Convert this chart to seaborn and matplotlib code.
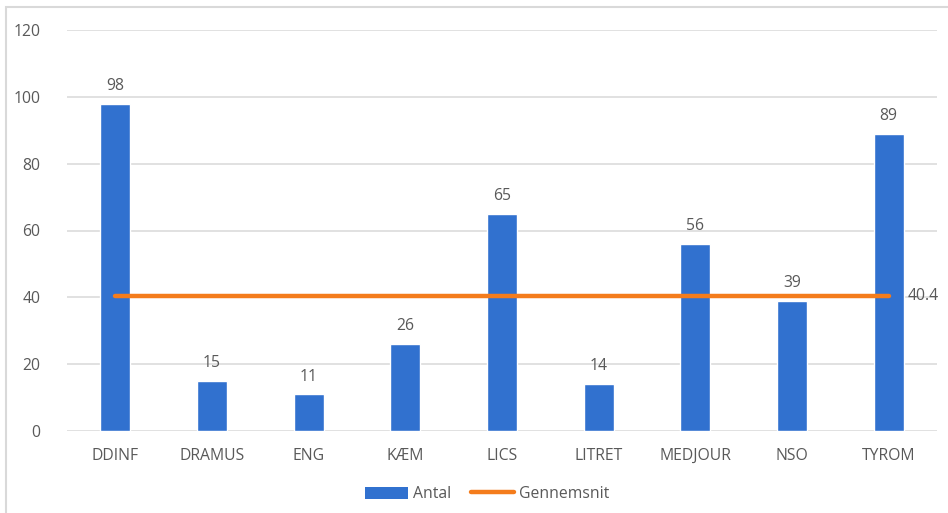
import matplotlib
matplotlib.use("Agg")
import matplotlib.pyplot as plt
import seaborn as sns
import pandas as pd
from matplotlib.patches import Rectangle
from matplotlib.lines import Line2D
from matplotlib.patches import Patch

categories = ["DDINF", "DRAMUS", "ENG", "KÆM", "LICS", "LITRET", "MEDJOUR", "NSO", "TYROM"]
antal = [98, 15, 11, 26, 65, 14, 56, 39, 89]
gennemsnit = 40.4
y_ticks = [0, 20, 40, 60, 80, 100, 120]

BLUE = "#3171CF"
ORANGE = "#F47C1C"
TEXT = "#595959"
GRID = "#D9D9D9"
FS = 11.3

sns.set_theme(style="white")
plt.rcParams["font.family"] = ["Open Sans", "DejaVu Sans"]

df = pd.DataFrame({"kategori": categories, "antal": antal})

fig = plt.figure(figsize=(9.48, 5.13), dpi=100)
ax = fig.add_axes([67 / 948, 1 - 431 / 513, (937 - 67) / 948, (431 - 30) / 513])

sns.barplot(data=df, x="kategori", y="antal", color=BLUE, width=0.31,
            saturation=1, ax=ax, zorder=3)

# average line spanning the first to the last category
avg_df = pd.DataFrame({"x": [0, len(categories) - 1], "y": [gennemsnit, gennemsnit]})
sns.lineplot(data=avg_df, x="x", y="y", color=ORANGE, linewidth=3.2, ax=ax, zorder=4)
ax.text(len(categories) - 1 + 0.2, gennemsnit, f"{gennemsnit}", color=TEXT,
        fontsize=FS, va="center", ha="left", zorder=5)

for c in ax.containers:
    ax.bar_label(c, labels=[str(v) for v in antal], padding=7, color=TEXT, fontsize=FS)

ax.set_xlim(-0.5, len(categories) - 0.5)
ax.set_ylim(0, 120)
ax.set_yticks(y_ticks)
ax.yaxis.grid(True, color=GRID, linewidth=1.1, zorder=0)
ax.set_axisbelow(True)
for s in ax.spines.values():
    s.set_visible(False)
ax.tick_params(axis="y", length=0, pad=19, labelsize=FS, labelcolor=TEXT)
ax.tick_params(axis="x", length=0, pad=12, labelsize=FS, labelcolor=TEXT)
ax.set_xlabel("")
ax.set_ylabel("")

handles = [Patch(facecolor=BLUE, edgecolor="none", label="Antal"),
           Line2D([0], [0], color=ORANGE, linewidth=3.2, label="Gennemsnit")]
fig.legend(handles=handles, loc="center", bbox_to_anchor=(487 / 948, 1 - 494 / 513),
           ncol=2, frameon=False, fontsize=FS, labelcolor=TEXT,
           handlelength=2.75, handleheight=0.8, columnspacing=1.3, handletextpad=0.3)

# outer frame around the chart area
fig.patches.append(Rectangle((6 / 948, -0.1), 1.2, 1 - 7 / 513 + 0.1,
                             transform=fig.transFigure, fill=False,
                             edgecolor=GRID, linewidth=1.5))

fig.savefig("out.png", dpi=100)
